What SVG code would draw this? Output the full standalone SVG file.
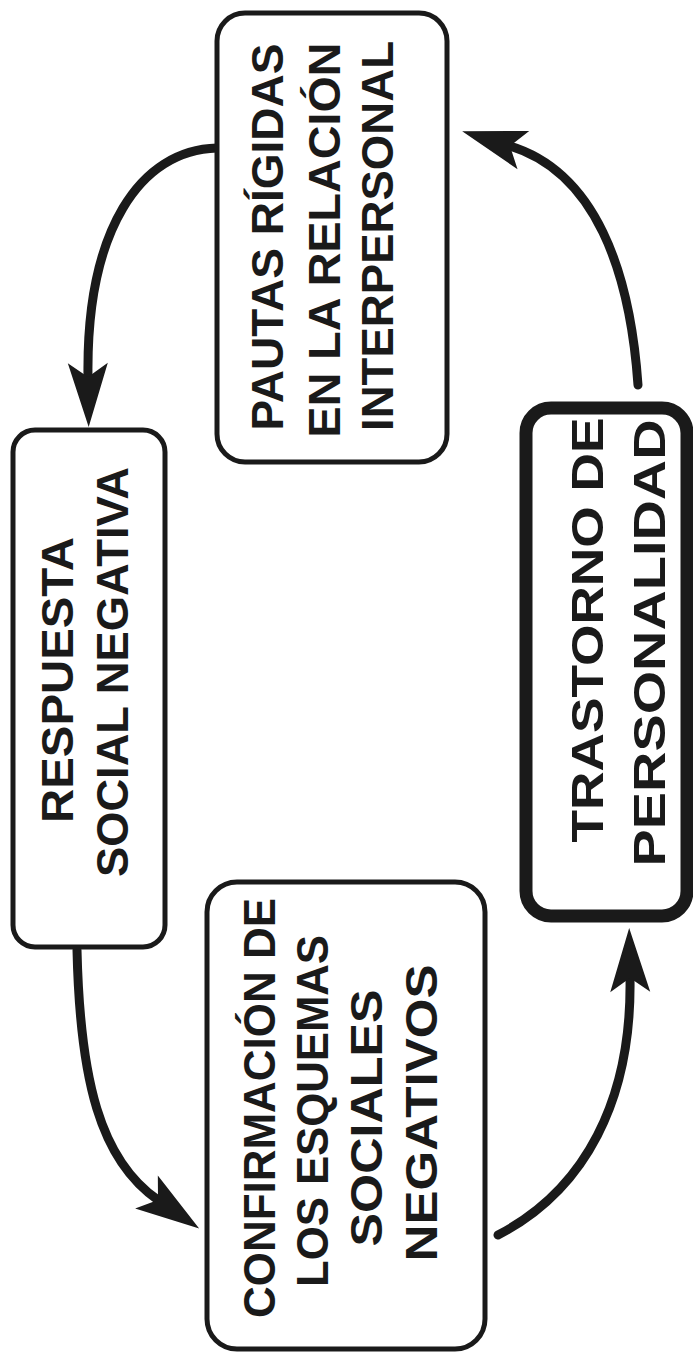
<svg xmlns="http://www.w3.org/2000/svg" width="693" height="1353" viewBox="0 0 693 1353">
<style>
.box{fill:#fff;stroke:#1a1a1a;stroke-width:5}
.thick{stroke-width:13}
.lbl{font-family:"Liberation Sans",Arial,Helvetica,sans-serif;font-weight:bold;font-size:44px;fill:#1a1a1a;text-anchor:middle}
.big{font-size:45px}
.arr{fill:none;stroke:#1a1a1a;stroke-width:9;stroke-linecap:round}
</style>
<defs>
<marker id="ah" markerUnits="userSpaceOnUse" orient="auto" refX="0" refY="0" markerWidth="80" markerHeight="60" overflow="visible">
<path d="M-14,-20 L50,0 L-14,20 L0,0 Z" fill="#1a1a1a"/>
</marker>
</defs>
<rect width="693" height="1353" fill="#fff"/>
<g id="connectors">
<path class="arr" d="M217,148 C140,150 86,230 88,377" marker-end="url(#ah)"/>
<path class="arr" d="M77,950 C80,1080 100,1160 158,1200" marker-end="url(#ah)"/>
<path class="arr" d="M498,1235 C585,1190 632,1100 630,978" marker-end="url(#ah)"/>
<path class="arr" d="M638,385 C630,270 595,172 510,146" marker-end="url(#ah)"/>
</g>
<g id="pautas">
<rect class="box" x="217" y="13" width="230" height="449" rx="28"/>
<text class="lbl" transform="translate(283,237) rotate(-90)" textLength="387" lengthAdjust="spacingAndGlyphs">PAUTAS RÍGIDAS</text>
<text class="lbl" transform="translate(340,240) rotate(-90)" textLength="395" lengthAdjust="spacingAndGlyphs">EN LA RELACIÓN</text>
<text class="lbl" transform="translate(393,236) rotate(-90)" textLength="390" lengthAdjust="spacingAndGlyphs">INTERPERSONAL</text>
</g>
<g id="respuesta">
<rect class="box" x="13" y="430" width="152" height="517" rx="22"/>
<text class="lbl" transform="translate(73,680) rotate(-90)" textLength="286" lengthAdjust="spacingAndGlyphs">RESPUESTA</text>
<text class="lbl" transform="translate(128,672) rotate(-90)" textLength="410" lengthAdjust="spacingAndGlyphs">SOCIAL NEGATIVA</text>
</g>
<g id="confirmacion">
<rect class="box" x="207" y="882" width="278" height="467" rx="30"/>
<text class="lbl" transform="translate(275,1108) rotate(-90)" textLength="420" lengthAdjust="spacingAndGlyphs">CONFIRMACIÓN DE</text>
<text class="lbl" transform="translate(328,1111) rotate(-90)" textLength="352" lengthAdjust="spacingAndGlyphs">LOS ESQUEMAS</text>
<text class="lbl" transform="translate(382,1118) rotate(-90)" textLength="257" lengthAdjust="spacingAndGlyphs">SOCIALES</text>
<text class="lbl" transform="translate(437,1113) rotate(-90)" textLength="297" lengthAdjust="spacingAndGlyphs">NEGATIVOS</text>
</g>
<g id="trastorno">
<rect class="box thick" x="526" y="408" width="161" height="508" rx="25"/>
<text class="lbl big" transform="translate(603,630) rotate(-90)" textLength="425" lengthAdjust="spacingAndGlyphs">TRASTORNO DE</text>
<text class="lbl big" transform="translate(665,643) rotate(-90)" textLength="447" lengthAdjust="spacingAndGlyphs">PERSONALIDAD</text>
</g>
</svg>
